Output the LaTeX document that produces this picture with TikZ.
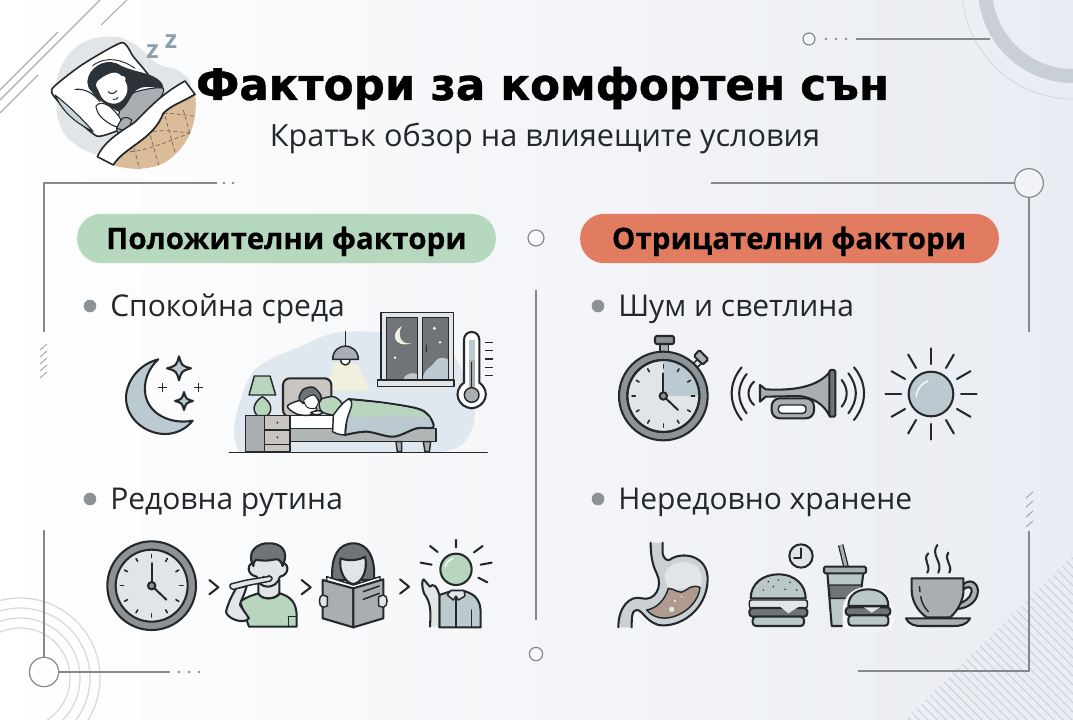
\documentclass[tikz,border=0pt]{standalone}
\usepackage{fontspec}
\setmainfont{Open Sans}
\newfontfamily\titlefont[BoldFont={DejaVu Sans Bold},BoldFeatures={FakeBold=.9}]{DejaVu Sans}
\newfontfamily\pillfont[BoldFont={Open Sans Bold},BoldFeatures={FakeBold=.4}]{Open Sans}
\usetikzlibrary{shapes.geometric}
\definecolor{ink}{HTML}{24282B}
\definecolor{hairc}{HTML}{2B3238}
\definecolor{dgrey}{HTML}{6E7478}
\definecolor{mgrey}{HTML}{8D9296}
\definecolor{pgrey}{HTML}{A8AEB2}
\definecolor{lgrey}{HTML}{E2E5E8}
\definecolor{bluegr}{HTML}{BACAD0}
\definecolor{bung}{HTML}{BAC8C7}
\definecolor{sage}{HTML}{B8D6BE}
\definecolor{pillg}{HTML}{B6D8BE}
\definecolor{pillr}{HTML}{E17C61}
\definecolor{tan1}{HTML}{DABC98}
\definecolor{quilt}{HTML}{7A6A58}
\definecolor{taupe}{HTML}{C9C5C0}
\definecolor{decor}{HTML}{84898E}
\definecolor{hatchc}{HTML}{CDD2D8}
\definecolor{rings}{HTML}{D5D8DC}
\definecolor{bgend}{HTML}{E9ECF2}
\definecolor{blobc}{HTML}{DFE8EE}
\definecolor{lightc}{HTML}{F1EFDD}
\definecolor{stomw}{HTML}{C9D1D5}
\definecolor{stomc}{HTML}{AE9A8E}
\definecolor{zcol}{HTML}{8FA0AB}
\definecolor{bigring}{HTML}{C8D0D6}
\tikzset{
 zoomed/.style 2 args={shift={(#1,#2)},x=.25pt,y=-.25pt},
 ol/.style={draw=ink,line width=1.55pt,line join=round,line cap=round},
 thin1/.style={draw=ink,line width=1.1pt,line join=round,line cap=round},
 deco/.style={draw=decor,line width=.9pt},
 ringnode/.style={circle,draw=decor,line width=.9pt,fill=white,fill opacity=.35,text opacity=1,inner sep=0pt},
 dotmark/.style={circle,fill=decor,inner sep=0pt,minimum size=2pt},
 bullet/.style={circle,fill=mgrey,inner sep=0pt,minimum size=9.5pt},
 pilltext/.style={font=\pillfont\bfseries\fontsize{22.2}{24}\selectfont,text=black,inner sep=0pt,anchor=base},
 itemtext/.style={font=\fontsize{22.5}{24}\selectfont,text=ink,inner sep=0pt,anchor=base west},
 pillshape/.style={rounded corners=18pt,minimum width=314pt,minimum height=37pt,inner sep=0pt},
}
\newcommand\mkclock[4]{% cx cy R ringR
 \fill[mgrey,ol] (#1,#2) circle (#3);
 \fill[lgrey,ol] (#1,#2) circle (#4);
}
\newcommand\mkticks[2]{%
 \foreach \a in {0,30,...,330}
  \draw[ink,line width=1.2pt,line cap=round] ([shift={(\a:84)}]#1,#2) -- ([shift={(\a:94)}]#1,#2);
 \draw[ink,line width=1.5pt,line cap=round] (#1,#2) -- ++(0,-68);
 \draw[ink,line width=1.5pt,line cap=round] (#1,#2) -- ++(44,42);
 \fill[mgrey,ol] (#1,#2) circle (11);
}
\newcommand\mkstar[3]{%
 \path[ol,fill=bluegr] (#1,#2-#3) .. controls (#1+.22*#3,#2-.22*#3) .. (#1+#3,#2)
   .. controls (#1+.22*#3,#2+.22*#3) .. (#1,#2+#3)
   .. controls (#1-.22*#3,#2+.22*#3) .. (#1-#3,#2)
   .. controls (#1-.22*#3,#2-.22*#3) .. cycle;
}
\newcommand\mkplus[2]{%
 \draw[ink,line width=.6pt] (#1-13,#2) -- (#1+13,#2) (#1,#2-13) -- (#1,#2+13);
}
\begin{document}
\begin{tikzpicture}[x=.75pt,y=-.75pt]
\useasboundingbox (0,0) rectangle (1073,720);
% background
\shade[left color=white,right color=bgend] (0,0) rectangle (1073,720);

% corner ornaments
\begin{scope}
 \clip (0,0) rectangle (1073,720);
 \draw[bigring,line width=10.5pt] (1073,-12) circle (88);
 \draw[rings,line width=.7pt] (1073,-12) circle (111);
 \foreach \r in {50,60,70,80}
   \draw[rings,line width=.9pt] (20,678) circle (\r);
 \draw[pgrey,line width=.8pt] (100,0) -- (0,100) (58,32) -- (0,90) (127,0) -- (101,25) (38,75) -- (0,113);
\end{scope}
\begin{scope}
 \clip (1073,555) -- (905,720) -- (1073,720) -- cycle;
 \foreach \s in {640,649,...,1073}
   \draw[hatchc,line width=.8pt] (\s,540) -- ++(220,220);
\end{scope}

% frame decoration
\node[ringnode,minimum size=21.5pt] (rTR) at (1029,183) {};
\node[ringnode,minimum size=22pt] (rBL) at (44,672) {};
\node[ringnode,minimum size=12pt] (rCT) at (536,238) {};
\node[ringnode,minimum size=10pt] (rCB) at (536,654) {};
\node[ringnode,minimum size=9pt] (rTop) at (809,39) {};
\coordinate (tlA) at (217,183); \coordinate (tlB) at (44,183); \coordinate (tlC) at (44,332);
\coordinate (blA) at (44,530); \coordinate (blB) at (170,672);
\coordinate (trA) at (711,183); \coordinate (trB) at (1029,332);
\coordinate (brA) at (1029,531); \coordinate (brB) at (1029,671); \coordinate (brC) at (858,671);
\coordinate (cA) at (536,290); \coordinate (cB) at (536,620);
\coordinate (tA) at (856,39); \coordinate (tB) at (990,39);
\draw[deco] (tlA) -- (tlB) -- (tlC);
\draw[deco] (blA) -- (rBL);
\draw[deco] (rBL) -- (blB);
\draw[deco] (trA) -- (rTR);
\draw[deco] (rTR) -- (trB);
\draw[deco] (brA) -- (brB) -- (brC);
\draw[deco] (cA) -- (cB);
\draw[deco] (tA) -- (tB);
\foreach \n/\x/\y in {a/224/183,b/233/183,c/179/672,d/189/672,e/199/672,f/826/39,g/836/39,h/846/39}
  \node[dotmark] (dot\n) at (\x,\y) {};
\foreach \y in {347,354,361,368,375}
  \draw[pgrey,line width=.8pt] (40,\y+3) -- (47,\y-3);
\foreach \y in {495,504,514,524}
  \draw[pgrey,line width=.8pt] (1026,\y+3) -- (1033,\y-3);

% titles
\node[inner sep=0pt,anchor=base,font=\titlefont\bfseries\fontsize{32.7}{36}\selectfont,text=black] (title) at (542.5,100) {Фактори за комфортен сън};
\node[inner sep=0pt,anchor=base,font=\fontsize{23}{26}\selectfont,text=ink] (subtitle) at (545,147) {Кратък обзор на влияещите условия};

% pills
\node[pillshape,fill=pillg] (pillL) at (286.5,238.5) {};
\node[pillshape,fill=pillr] (pillR) at (789.5,238.5) {};
\node[pilltext] (pillLt) at (286.5,249) {Положителни фактори};
\node[pilltext] (pillRt) at (789,249) {Отрицателни фактори};

% bullets
\node[bullet] (b1) at (90,306) {};
\node[bullet] (b2) at (90,499) {};
\node[bullet] (b3) at (598,306) {};
\node[bullet] (b4) at (598,499) {};
\node[itemtext] (i1) at (110,316) {Спокойна среда};
\node[itemtext] (i2) at (110,509) {Редовна рутина};
\node[itemtext] (i3) at (618,316) {Шум и светлина};
\node[itemtext] (i4) at (618,509) {Нередовно хранене};

% ---------- sleeper
\begin{scope}[zoomed={0}{0}]
 \fill[lgrey] plot[smooth cycle,tension=.7] coordinates {(170,300)(175,220)(230,140)(320,110)(400,130)(470,190)(540,215)(570,270)(500,400)(380,470)(290,465)(210,420)(175,360)};
 % pillow
 \path[ol,line width=1.2pt,fill=white] plot[smooth cycle,tension=.35] coordinates {(155,268)(245,195)(365,128)(400,170)(445,225)(480,300)(400,370)(345,395)(290,408)(220,350)(180,310)};
 \path[thin1,line width=.8pt,fill=bluegr!80!white] (165,285) .. controls (210,320) and (250,360) .. (280,395) .. controls (230,370) and (190,340) .. cycle;
 \draw[thin1,line width=.8pt] (225,268) .. controls (255,265) and (280,280) .. (300,305);
 % shoulder
 \path[fill=pgrey,thin1,line width=.8pt] plot[smooth cycle] coordinates {(370,300)(420,272)(490,265)(470,310)(420,360)(380,400)(350,390)};
 % hair
 \path[fill=hairc] (262,245) .. controls (265,205) and (310,175) .. (350,190) .. controls (390,215) and (440,215) .. (470,235) .. controls (485,245) and (490,255) .. (490,265) .. controls (460,262) and (430,255) .. (410,270) .. controls (390,285) and (385,320) .. (355,335) .. controls (330,320) and (290,300) .. (275,275) .. controls (265,265) and (262,255) .. cycle;
 \draw[thin1,line width=.7pt] (278,197) .. controls (320,165) and (370,180) .. (405,205);
 % face
 \path[fill=white] plot[smooth cycle,tension=.7] coordinates {(292,245)(345,218)(378,248)(378,285)(350,310)(315,302)(297,275)};
 \draw[thin1,line width=.8pt] (325,275) .. controls (332,283) and (342,283) .. (350,272);
 \draw[thin1,line width=.7pt] (340,298) .. controls (346,300) and (352,297) .. (354,292);
 \path[fill=white] (368,237) circle (9);
 % hands
 \path[thin1,line width=.8pt,fill=white] plot[smooth cycle,tension=.5] coordinates {(288,318)(305,310)(330,320)(362,358)(350,380)(320,365)(298,345)};
 \path[fill=pgrey,thin1,line width=.8pt] (350,385) .. controls (365,350) and (375,345) .. (395,360) -- (385,395) -- cycle;
 % white blanket
 \path[ol,line width=1.2pt,fill=white] (292,470) .. controls (310,430) and (345,405) .. (400,370) .. controls (430,345) and (470,290) .. (555,243) -- (585,283) .. controls (550,305) and (515,315) .. (490,340) .. controls (460,420) and (375,440) .. (340,495) -- cycle;
 % quilt
 \path[fill=tan1] (340,495) .. controls (375,440) and (460,420) .. (490,340) .. controls (515,315) and (550,305) .. (585,283) .. controls (595,350) and (575,440) .. (490,490) .. controls (440,512) and (385,510) .. cycle;
 \begin{scope}
  \clip (340,495) .. controls (375,440) and (460,420) .. (490,340) .. controls (515,315) and (550,305) .. (585,283) .. controls (595,350) and (575,440) .. (490,490) .. controls (440,512) and (385,510) .. cycle;
  \draw[quilt,line width=.55pt,densely dashed] (370,455) .. controls (430,460) and (510,420) .. (570,400);
  \draw[quilt,line width=.55pt,densely dashed] (440,400) .. controls (480,385) and (530,395) .. (580,400);
  \draw[quilt,line width=.55pt,densely dashed] (490,340) .. controls (520,340) and (560,345) .. (590,350);
  \foreach \o in {-90,-30,30,90}
   \draw[quilt,line width=.55pt,densely dashed] (460+\o,330) -- ++(50,180);
 \end{scope}
 \draw[ink,line width=1.2pt] (340,495) .. controls (375,440) and (460,420) .. (490,340) .. controls (515,315) and (550,305) .. (585,283);
\end{scope}
\node[inner sep=0pt,font=\bfseries\fontsize{19}{20}\selectfont,text=zcol] (z1) at (152.5,52) {z};
\node[inner sep=0pt,font=\bfseries\fontsize{19}{20}\selectfont,text=zcol] (z2) at (171,42) {z};

% ---------- moon + bedroom
\begin{scope}[zoomed={100}{300}]
 \path[ol,fill=bluegr] (175,178) .. controls (110,195) and (78,250) .. (78,295)
   .. controls (80,360) and (140,402) .. (195,402)
   .. controls (230,402) and (260,385) .. (278,362)
   .. controls (210,375) and (140,340) .. (135,275)
   .. controls (132,235) and (150,200) .. cycle;
 \mkstar{237}{205}{36}
 \mkstar{252}{303}{27}
 \mkplus{188}{262}
 \mkplus{296}{262}
 % room blob
 \fill[blobc] plot[smooth,tension=.6] coordinates {(420,457)(402,400)(420,305)(470,205)(600,140)(740,95)(1000,120)(1085,210)(1125,340)(1090,430)(1020,457)} -- cycle;
 % light
 \fill[lightc] (702,190) -- (770,190) -- (810,272) -- (680,272) -- cycle;
 \draw[ol,line width=1pt] (736,95) -- (736,140);
 \path[thin1,fill=pgrey] (698,178) .. controls (698,150) and (720,138) .. (736,138) .. controls (752,138) and (775,150) .. (775,178) -- cycle;
 \path[thin1,fill=white] (722,180) .. controls (724,200) and (748,200) .. (750,180);
 % window
 \path[thin1,fill=lgrey] (843,38) rectangle (1060,240);
 \fill[dgrey] (860,52) rectangle (952,238);
 \fill[dgrey] (968,52) rectangle (1046,238);
 \fill[bluegr] (968,238) .. controls (970,205) and (1000,200) .. (1005,185) .. controls (1020,165) and (1040,175) .. (1046,180) -- (1046,238) -- cycle;
 \fill[bluegr] (910,238) .. controls (915,222) and (935,215) .. (952,222) -- (952,238) -- cycle;
 \draw[thin1] (860,52) rectangle (952,238) (968,52) rectangle (1046,238);
 \path[fill=lightc] (905,78) .. controls (870,100) and (880,145) .. (935,130) .. controls (905,135) and (890,110) .. cycle;
 \fill[white] (1003,85) circle (5) (1020,127) circle (4) (885,173) circle (4);
 \draw[thin1,line width=.7pt] (978,135) -- (978,155);
 \path[thin1,fill=lgrey] (832,240) rectangle (1062,260);
 % thermometer
 \path[ol,fill=white] (1092,120) .. controls (1092,88) and (1138,88) .. (1138,120) -- (1138,248) .. controls (1175,275) and (1155,322) .. (1115,325) .. controls (1075,322) and (1055,275) .. (1092,248) -- cycle;
 \fill[bluegr] (1106,120) rectangle (1124,180);
 \fill[pgrey] (1106,180) rectangle (1124,260);
 \draw[ink,line width=1.1pt] (1115,185) -- (1115,262);
 \path[thin1,fill=pgrey] (1115,285) circle (22);
 \foreach \y in {127,152,177,202,227}
  \draw[ink,line width=.9pt] (1155,\y) -- (1180,\y);
 % table lamp
 \path[thin1,fill=sage] (472,347) .. controls (450,325) and (470,300) .. (487,290) .. controls (505,300) and (525,325) .. (502,347) -- cycle;
 \path[thin1,fill=sage] (463,228) -- (510,228) -- (527,285) -- (447,285) -- cycle;
 % headboard
 \path[ol,fill=taupe,rounded corners=5pt] (549,350) -- (549,235) -- (694,235) -- (694,350) -- cycle;
 % nightstand
 \path[thin1,fill=pgrey] (436,347) rectangle (493,455);
 \path[thin1,fill=taupe] (493,347) rectangle (570,390);
 \path[thin1,fill=taupe] (493,390) rectangle (570,433);
 \path[thin1,fill=taupe] (493,433) rectangle (570,455);
 \fill[ink] (532,368) circle (3) (532,412) circle (3);
 % bed
 \path[thin1,fill=white] (570,347) rectangle (730,385);
 \path[thin1,fill=pgrey!70!taupe] (570,385) rectangle (1008,425);
 \path[thin1,fill=pgrey] (888,425) -- (905,425) -- (905,455) -- (892,455) -- cycle;
 \path[thin1,fill=pgrey] (970,425) -- (992,425) -- (988,455) -- (975,455) -- cycle;
 % sleeper
 \path[thin1,fill=white] plot[smooth cycle] coordinates {(562,318)(610,300)(650,325)(630,345)(590,342)};
 \path[thin1,fill=sage] plot[smooth cycle] coordinates {(660,300)(700,290)(725,310)(715,345)(665,335)};
 \path[thin1,fill=dgrey] plot[smooth cycle] coordinates {(597,295)(610,268)(640,262)(662,285)(660,305)(640,285)(615,300)(610,310)};
 \path[thin1,line width=.7pt,fill=white] plot[smooth cycle] coordinates {(612,300)(640,285)(655,305)(645,325)(622,322)};
 \path[thin1,fill=white] (632,338) .. controls (650,330) and (662,330) .. (668,338) .. controls (660,346) and (640,346) .. cycle;
 % blanket
 \path[ol,fill=bluegr] plot[smooth,tension=.55] coordinates {(745,297)(850,308)(950,325)(985,345)(1000,382)(950,385)(880,410)(800,395)(735,405)} -- cycle;
 \fill[sage] plot[smooth,tension=.55] coordinates {(748,302)(850,311)(945,328)(980,348)(985,355)(900,345)(820,350)(755,352)} -- cycle;
 \path[thin1,fill=white] (700,345) .. controls (715,325) and (730,305) .. (745,297) .. controls (762,300) and (755,320) .. (745,345) .. controls (738,365) and (735,390) .. (735,405) .. controls (720,405) and (705,400) .. (698,395) -- cycle;
 \draw[ol,line width=1.2pt] (388,457) -- (1162,457);
\end{scope}

% ---------- routine
\begin{scope}[zoomed={90}{530}]
 \mkclock{185}{167}{133}{108}
 \mkticks{185}{167}
 \foreach \x/\y in {358/150,635/150,930/148}
  \draw[ol] (\x,\y) -- (\x+27,\y+22) -- (\x,\y+43);
 % brushing person
 \path[ol,fill=sage] (477,290) -- (450,215) .. controls (470,200) and (490,195) .. (505,190) .. controls (515,210) and (555,210) .. (570,190) .. controls (600,200) and (620,215) .. (620,260) -- (620,290) -- cycle;
 \draw[thin1] (595,260) -- (620,260) (595,260) -- (595,290);
 \path[ol,fill=lgrey] (505,150) -- (505,190) .. controls (515,210) and (555,210) .. (568,190) -- (568,150) -- cycle;
 \path[ol,fill=lgrey] (500,140) .. controls (470,135) and (470,100) .. (490,100) -- (490,60) -- (578,60) -- (578,100) .. controls (598,100) and (598,135) .. (570,140) .. controls (560,180) and (505,180) .. cycle;
 \path[ol,fill=dgrey] (490,108) .. controls (465,60) and (510,38) .. (535,40) .. controls (570,38) and (600,60) .. (578,108) .. controls (575,95) and (565,85) .. (555,88) .. controls (530,95) and (510,90) .. (497,90) .. controls (492,95) and (490,100) .. cycle;
 \path[ol,fill=lgrey] (477,265) .. controls (460,285) and (410,265) .. (408,245) .. controls (415,215) and (430,190) .. (438,175) -- (470,168) .. controls (462,200) and (450,215) .. (450,225) -- cycle;
 \path[thin1,fill=lgrey,rounded corners=1.5pt] (418,163) -- (470,150) -- (545,138) -- (547,152) -- (472,167) -- (424,180) -- cycle;
 \fill[ink] (520,141) circle (4) (537,138) circle (4);
 % reader
 \path[ol,fill=dgrey] (727,150) .. controls (722,80) and (745,40) .. (790,40) .. controls (835,40) and (857,85) .. (852,150) -- cycle;
 \path[ol,fill=lgrey] (752,85) .. controls (775,95) and (810,90) .. (825,80) .. controls (835,120) and (815,160) .. (790,162) .. controls (765,160) and (745,120) .. cycle;
 \path[thin1,fill=white] (710,140) -- (790,165) -- (870,140) -- (870,155) -- (790,178) -- (710,155) -- cycle;
 \path[ol,fill=pgrey] (698,150) -- (790,175) -- (790,292) -- (698,265) -- cycle;
 \path[ol,fill=pgrey] (790,175) -- (880,148) -- (880,265) -- (790,292) -- cycle;
 \draw[thin1] (820,185) -- (868,168) (820,208) -- (868,190);
 \path[thin1,fill=lgrey] (698,195) .. controls (685,195) and (685,230) .. (698,232) -- (712,228) -- (712,200) -- cycle;
 \path[thin1,fill=lgrey] (880,195) .. controls (895,195) and (895,230) .. (880,232) -- (866,228) -- (866,200) -- cycle;
 % sun person
 \path[ol,fill=sage] (1098,118) circle (47);
 \draw[white,line width=1pt] (1066,110) .. controls (1070,95) and (1080,88) .. (1090,85);
 \draw[ol] (1098,30) -- (1098,52) (1020,48) -- (1043,66) (1178,48) -- (1152,67) (992,98) -- (1025,104) (1205,98) -- (1172,104) (1165,143) -- (1192,157);
 \path[ol,fill=bluegr] (1048,292) -- (1048,195) .. controls (1060,190) and (1075,188) .. (1085,182) -- (1120,182) .. controls (1140,190) and (1172,195) .. (1172,250) -- (1172,292) -- cycle;
 \path[thin1,fill=lgrey] (1082,182) -- (1122,182) -- (1125,198) -- (1105,210) -- (1098,198) -- (1090,210) -- (1072,195) -- cycle;
 \draw[thin1] (1098,205) -- (1098,290) (1145,240) -- (1145,290);
 \path[ol,fill=lgrey] (1020,290) .. controls (1022,250) and (1025,220) .. (1002,190) .. controls (995,170) and (995,150) .. (1001,148) .. controls (1010,155) and (1012,165) .. (1020,170) .. controls (1028,160) and (1040,165) .. (1048,195) -- (1048,290);
\end{scope}

% ---------- stopwatch, horn, sun
\begin{scope}[zoomed={600}{330}]
 \path[thin1,fill=pgrey] (180,42) rectangle (205,68);
 \path[ol,fill=dgrey!80!white,rounded corners=1.5pt] (165,18) rectangle (222,42);
 \path[thin1,fill=lgrey] (280,100) -- (300,82) -- (310,95) -- (292,112) -- cycle;
 \path[ol,fill=pgrey,rounded corners=1pt] (282,78) -- (298,60) -- (325,88) -- (308,104) -- cycle;
 \mkclock{190}{198}{133}{108}
 \fill[bluegr] (190,198) -- (190,90) arc[start angle=-90,end angle=0,radius=108] -- cycle;
 \draw[ol] (190,198) circle (108);
 \mkticks{190}{198}
 % horn
 \path[ol,fill=pgrey,rounded corners=6pt] (515,205) rectangle (642,265);
 \path[thin1,fill=white,rounded corners=2.5pt] (535,225) rectangle (618,250);
 \path[ol,fill=pgrey] (480,165) -- (497,178) .. controls (570,182) and (650,175) .. (690,125) -- (690,260) .. controls (670,220) and (640,205) .. (600,198) -- (497,200) -- (480,215) -- cycle;
 \path[ol,fill=dgrey,rounded corners=1pt] (688,120) rectangle (706,260);
 \draw[ol] (425,112) .. controls (385,160) and (385,220) .. (425,270);
 \draw[ol] (440,132) .. controls (410,170) and (410,210) .. (440,250);
 \draw[ol] (462,155) .. controls (440,175) and (440,205) .. (462,225);
 \draw[ol] (725,150) .. controls (745,175) and (745,205) .. (725,230);
 \draw[ol] (745,130) .. controls (775,170) and (775,210) .. (745,250);
 \draw[ol] (762,112) .. controls (802,160) and (802,220) .. (762,270);
 % sun
 \path[ol,fill=bluegr] (993,192) circle (67);
 \draw[white,line width=1pt] (948,200) .. controls (952,175) and (965,160) .. (985,152);
 \foreach \a in {0,30,...,330}
  \draw[ol] ([shift={(\a:90)}]993,192) -- ([shift={(\a:137)}]993,192);
\end{scope}

% ---------- stomach, food, cup
\begin{scope}[zoomed={600}{530}]
 \fill[stomw] (188,38) -- (188,70) .. controls (190,85) and (200,92) .. (208,90) .. controls (245,62) and (325,75) .. (323,150) .. controls (320,240) and (240,295) .. (175,285) .. controls (135,272) and (128,240) .. (110,240) .. controls (95,240) and (95,265) .. (95,292) -- (55,292) .. controls (55,230) and (90,195) .. (125,205) .. controls (165,215) and (190,170) .. (170,130) .. controls (155,100) and (152,70) .. (152,38) -- cycle;
 \draw[ol] (188,38) -- (188,70) .. controls (190,85) and (200,92) .. (208,90) .. controls (245,62) and (325,75) .. (323,150) .. controls (320,240) and (240,295) .. (175,285) .. controls (135,272) and (128,240) .. (110,240) .. controls (95,240) and (95,265) .. (95,292);
 \draw[ol] (55,292) .. controls (55,230) and (90,195) .. (125,205) .. controls (165,215) and (190,170) .. (170,130) .. controls (155,100) and (152,70) .. (152,38);
 \fill[lgrey] (193,140) .. controls (195,100) and (250,85) .. (285,105) .. controls (310,125) and (308,160) .. (300,175) -- (205,178) -- cycle;
 \path[thin1,fill=stomc] (140,240) .. controls (170,235) and (195,210) .. (205,175) .. controls (225,175) and (235,195) .. (255,182) .. controls (270,170) and (285,165) .. (300,172) .. controls (295,230) and (225,275) .. (175,262) .. controls (160,258) and (148,250) .. cycle;
 \fill[lgrey] (215,238) circle (8) (225,213) circle (4) (245,200) circle (3);
 % big burger
 \path[ol,fill=lgrey] (603,78) circle (35);
 \draw[ol] (603,55) -- (603,83) -- (582,83);
 \path[ol,fill=bung] (452,205) .. controls (452,160) and (490,133) .. (535,133) .. controls (585,133) and (617,165) .. (617,205) -- cycle;
 \fill[ink] (490,180) circle (2.5) (535,150) circle (2.5) (570,157) circle (2.5) (520,170) circle (2.5) (555,178) circle (2.5) (505,155) circle (2.5) (590,180) circle (2.5);
 \path[thin1,fill=lgrey,rounded corners=1.5pt] (448,210) rectangle (622,234);
 \path[ol,fill=dgrey,rounded corners=2.5pt] (448,234) rectangle (622,260);
 \fill[lgrey] (538,228) -- (600,228) -- (565,250) -- cycle;
 \path[ol,fill=bung,rounded corners=2.5pt] (458,260) rectangle (612,288);
 % cup
 \draw[ink,line width=4.2pt] (722,45) -- (738,110);
 \draw[pgrey,line width=2.3pt] (722,45) -- (738,110);
 \path[ol,fill=bung] (682,128) -- (790,128) -- (770,288) -- (695,288) -- cycle;
 \path[thin1,fill=dgrey] (686,165) -- (786,165) -- (780,205) -- (690,205) -- cycle;
 \path[ol,fill=pgrey,rounded corners=1pt] (672,110) rectangle (798,130);
 % small burger
 \fill[white!70!lgrey] (728,295) -- (728,240) .. controls (730,190) and (770,170) .. (805,170) .. controls (850,170) and (878,200) .. (878,240) -- (878,295) -- cycle;
 \path[ol,fill=bung] (745,228) .. controls (745,195) and (770,178) .. (805,178) .. controls (840,178) and (865,195) .. (865,228) -- cycle;
 \path[ol,fill=dgrey,rounded corners=2.5pt] (737,232) rectangle (871,256);
 \fill[lgrey] (792,232) -- (840,232) -- (815,248) -- cycle;
 \path[ol,fill=bung,rounded corners=2.5pt] (745,256) rectangle (865,287);
 % coffee
 \draw[ol] (985,70) .. controls (965,90) and (995,105) .. (982,128);
 \draw[ol] (1012,45) .. controls (990,75) and (1030,95) .. (1015,128);
 \draw[ol] (1045,68) .. controls (1030,90) and (1060,105) .. (1048,128);
 \path[ol,fill=pgrey] (1090,162) .. controls (1120,140) and (1140,170) .. (1132,195) .. controls (1125,220) and (1100,235) .. (1070,237) -- (1075,222) .. controls (1095,215) and (1110,205) .. (1115,185) .. controls (1118,170) and (1100,165) .. (1088,182) -- cycle;
 \path[ol,fill=pgrey] (935,145) -- (1090,145) -- (1090,190) .. controls (1085,225) and (1065,250) .. (1050,262) -- (980,262) .. controls (955,245) and (935,215) .. (935,180) -- cycle;
 \draw[thin1] (958,170) -- (960,185) (962,200) .. controls (965,220) and (975,235) .. (985,245);
 \path[ol,fill=pgrey] (918,265) -- (1110,265) .. controls (1100,285) and (1080,288) .. (1060,288) -- (965,288) .. controls (945,288) and (928,285) .. cycle;
\end{scope}
\end{tikzpicture}
\end{document}
